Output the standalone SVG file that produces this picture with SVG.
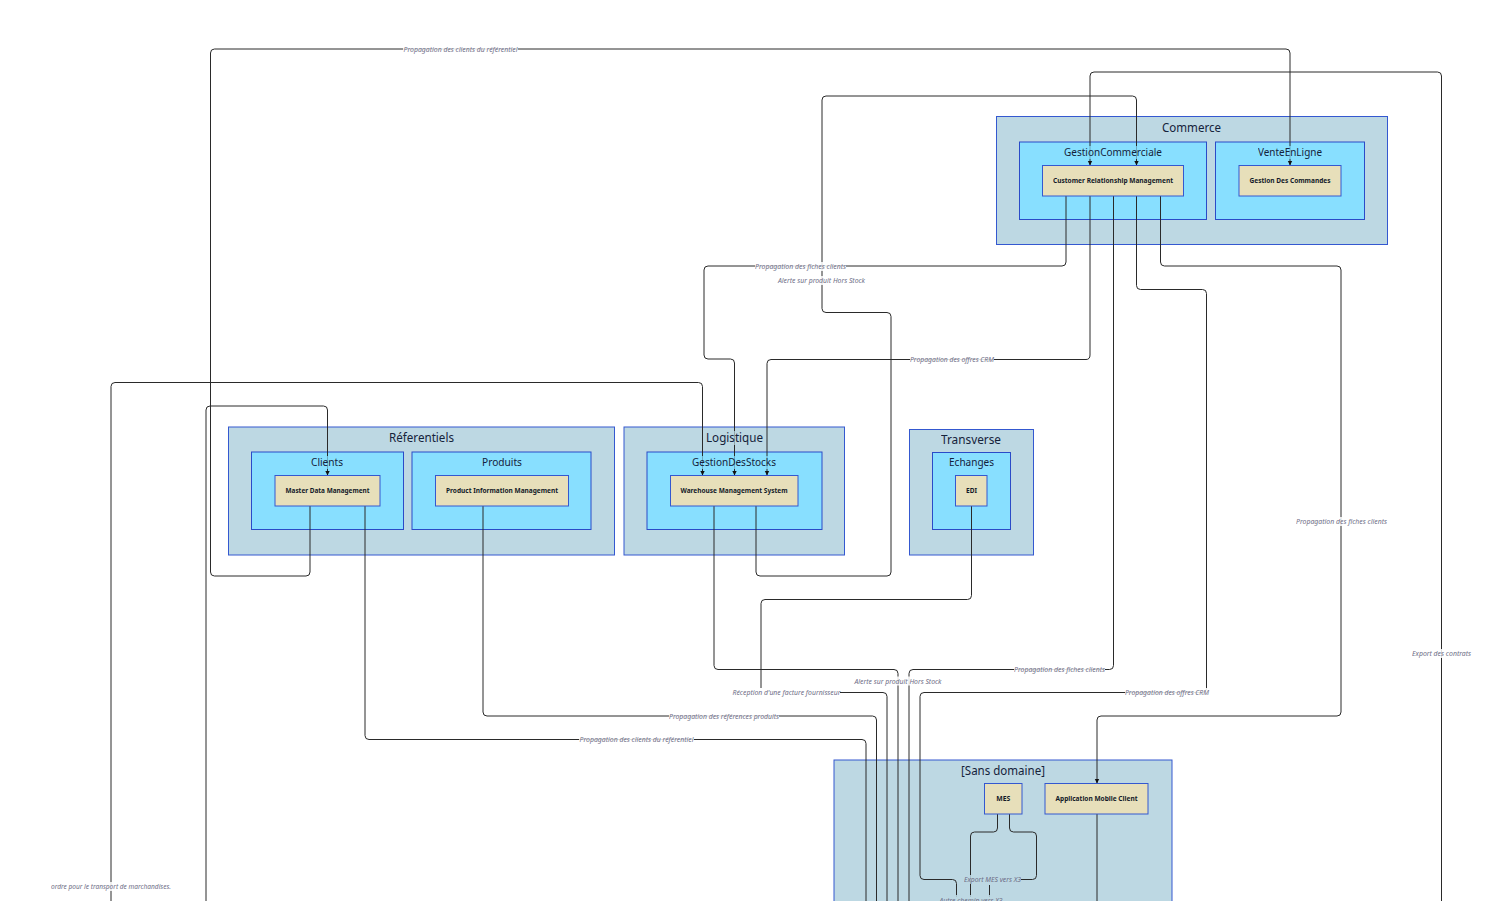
<svg xmlns="http://www.w3.org/2000/svg" width="1510" height="901" viewBox="0 0 1510 901">
<style>
.dom{fill:#bdd8e3;stroke:#3458d0;stroke-width:1}
.app{fill:#88dfff;stroke:#2a4bc8;stroke-width:1}
.mod{fill:#e7dfba;stroke:#3458d0;stroke-width:1}
.t{font-family:"Noto Sans","Liberation Sans",sans-serif;fill:#14213a;text-anchor:middle;opacity:.99}
.td{font-size:12px}
.ta{font-size:10.5px}
.tm{font-size:7.5px;font-weight:700;fill:#111827}
.c{fill:none;stroke:#2a2a2a;stroke-width:1}
.a{marker-end:url(#arr)}
.lb{fill:#fff;fill-opacity:.85;stroke:none}
.lbb{fill:#bdd8e3;fill-opacity:.85;stroke:none}
.l{font-family:"Noto Sans","Liberation Sans",sans-serif;font-style:italic;font-size:7.5px;fill:#6d6d86;text-anchor:middle;opacity:.99}
.bg1{fill:#bdd8e3;fill-opacity:.7}
.bg2{fill:#88dfff;fill-opacity:.7}
</style>
<defs>
<marker id="arr" markerUnits="userSpaceOnUse" markerWidth="6" markerHeight="6" refX="5" refY="3" orient="auto"><path d="M0 0.6L5 3L0 5.4Z" fill="#111"/></marker>
</defs>
<rect width="1510" height="901" fill="#fff"/>
<g id="containers">
<g id="dom-commerce"><rect class="dom" x="996.500" y="116.500" width="391" height="128"/></g>
<g id="app-gestioncommerciale"><rect class="app" x="1019.500" y="142" width="187" height="77.500"/></g>
<g id="app-venteenligne"><rect class="app" x="1215.500" y="142" width="149" height="77.500"/></g>
<g id="dom-referentiels"><rect class="dom" x="228.500" y="427" width="386" height="128"/></g>
<g id="app-clients"><rect class="app" x="251.500" y="452" width="152" height="77.500"/></g>
<g id="app-produits"><rect class="app" x="412" y="452" width="179" height="77.500"/></g>
<g id="dom-logistique"><rect class="dom" x="624" y="427" width="220.500" height="128"/></g>
<g id="app-gestiondesstocks"><rect class="app" x="647" y="452" width="175" height="77.500"/></g>
<g id="dom-transverse"><rect class="dom" x="909.500" y="429.500" width="124" height="125.500"/></g>
<g id="app-echanges"><rect class="app" x="932.500" y="452.500" width="78" height="77"/></g>
<g id="dom-sans"><rect class="dom" x="834" y="760" width="338" height="160"/></g>
</g>
<g id="connectors">
<path class="c a" d="M310 506V572Q310 576 306 576H214.500Q210.500 576 210.500 572V53Q210.500 49 214.500 49H1286Q1290 49 1290 53V165.500"/>
<path class="c a" d="M206 905V410Q206 406 210 406H323.500Q327.500 406 327.500 410V475.500"/>
<path class="c a" d="M111 905V386.500Q111 382.500 115 382.500H698.500Q702.500 382.500 702.500 386.500V475.500"/>
<path class="c a" d="M756 506V572Q756 576 760 576H887Q891 576 891 572V316.500Q891 312.500 887 312.500H826Q822 312.500 822 308.500V100Q822 96 826 96H1132.500Q1136.500 96 1136.500 100V165.500"/>
<path class="c a" d="M1066 196V262Q1066 266 1062 266H708Q704 266 704 270V355Q704 359 708 359H730.500Q734.500 359 734.500 363V475.500"/>
<path class="c a" d="M1090 196V355Q1090 359.500 1086 359.500H771Q767 359.500 767 363.500V475.500"/>
<path class="c a" d="M1441.500 905V76Q1441.500 72 1437.500 72H1094Q1090 72 1090 76V165.500"/>
<path class="c" d="M1113.500 196V665.500Q1113.500 669.500 1109.500 669.500H913Q909 669.500 909 673.500V905"/>
<path class="c" d="M1136.500 196V285.500Q1136.500 289.500 1140.500 289.500H1202.500Q1206.500 289.500 1206.500 293.500V688.500Q1206.500 692.500 1202.500 692.500H924Q920 692.500 920 696.500V875.500Q920 879.500 924 879.500H952.500Q956.500 879.500 956.500 883.500V897"/>
<path class="c a" d="M1160.500 196V262Q1160.500 266 1164.500 266H1337Q1341 266 1341 270V712Q1341 716 1337 716H1101Q1097 716 1097 720V783.500"/>
<path class="c" d="M714 506V665.500Q714 669.500 718 669.500H894Q898 669.500 898 673.500V905"/>
<path class="c" d="M971.500 506V595.500Q971.500 599.500 967.500 599.500H765Q761 599.500 761 603.500V688"/>
<path class="c" d="M840 692.500H883Q887 692.500 887 696.500V905"/>
<path class="c" d="M483 506V712Q483 716 487 716H872.500Q876.500 716 876.500 720V905"/>
<path class="c" d="M365 506V735.500Q365 739.500 369 739.500H862Q866 739.500 866 743.500V905"/>
<path class="c" d="M997.500 814V828Q997.500 832 993.500 832H974.500Q970.500 832 970.500 836V897"/>
<path class="c" d="M1009.500 814V828Q1009.500 832 1013.500 832H1032.500Q1036.500 832 1036.500 836V875.500Q1036.500 879.500 1032.500 879.500H1020"/>
<path class="c" d="M989.500 885V897"/>
<path class="c" d="M1097 814V905"/>
<g id="edge-labels">
<rect class="lb" x="403" y="45" width="115" height="9"/><text class="l" x="460.500" y="52" textLength="114" lengthAdjust="spacingAndGlyphs">Propagation des clients du référentiel</text>
<rect class="lb" x="755" y="262" width="91" height="9"/><text class="l" x="800.500" y="269" textLength="91" lengthAdjust="spacingAndGlyphs">Propagation des fiches clients</text>
<rect class="lb" x="778" y="276" width="87" height="9"/><text class="l" x="821.500" y="283" textLength="87" lengthAdjust="spacingAndGlyphs">Alerte sur produit Hors Stock</text>
<rect class="lb" x="910" y="355" width="84" height="9"/><text class="l" x="952" y="362" textLength="84" lengthAdjust="spacingAndGlyphs">Propagation des offres CRM</text>
<rect class="lb" x="1296" y="517" width="91" height="9"/><text class="l" x="1341.500" y="524" textLength="91" lengthAdjust="spacingAndGlyphs">Propagation des fiches clients</text>
<rect class="lb" x="1412" y="649" width="59" height="9"/><text class="l" x="1441.500" y="656" textLength="59" lengthAdjust="spacingAndGlyphs">Export des contrats</text>
<rect class="lb" x="1014" y="665" width="91" height="9"/><text class="l" x="1059.500" y="672" textLength="91" lengthAdjust="spacingAndGlyphs">Propagation des fiches clients</text>
<rect class="lb" x="855" y="676.500" width="87" height="9"/><text class="l" x="898" y="683.500" textLength="87" lengthAdjust="spacingAndGlyphs">Alerte sur produit Hors Stock</text>
<rect class="lb" x="732" y="688" width="108" height="9"/><text class="l" x="786.500" y="695" textLength="108" lengthAdjust="spacingAndGlyphs">Réception d'une facture fournisseur</text>
<rect class="lb" x="1125" y="688" width="84" height="9"/><text class="l" x="1167" y="695" textLength="84" lengthAdjust="spacingAndGlyphs">Propagation des offres CRM</text>
<rect class="lb" x="669" y="712" width="110" height="9"/><text class="l" x="724" y="719" textLength="110" lengthAdjust="spacingAndGlyphs">Propagation des références produits</text>
<rect class="lb" x="579" y="735" width="115" height="9"/><text class="l" x="636.500" y="742" textLength="114" lengthAdjust="spacingAndGlyphs">Propagation des clients du référentiel</text>
<rect class="lbb" x="964" y="875" width="57" height="9"/><text class="l" x="992.500" y="882" textLength="57" lengthAdjust="spacingAndGlyphs">Export MES vers X3</text>
<rect class="lbb" x="939" y="895" width="64" height="9"/><text class="l" x="971" y="902.500" textLength="63" lengthAdjust="spacingAndGlyphs">Autre chemin vers X3</text>
<rect class="lb" x="51" y="882" width="120" height="9"/><text class="l" x="111" y="889" textLength="120" lengthAdjust="spacingAndGlyphs">ordre pour le transport de marchandises.</text>
</g>
</g>
<g id="titles">
<rect class="bg1" x="1162" y="121" width="59" height="14"/><text class="t td" x="1191.500" y="132" textLength="59" lengthAdjust="spacingAndGlyphs">Commerce</text>
<rect class="bg2" x="1064" y="146" width="98" height="13"/><text class="t ta" x="1113" y="156" textLength="98" lengthAdjust="spacingAndGlyphs">GestionCommerciale</text>
<rect class="bg2" x="1258" y="146" width="64" height="13"/><text class="t ta" x="1290" y="156" textLength="64" lengthAdjust="spacingAndGlyphs">VenteEnLigne</text>
<rect class="bg1" x="389" y="431" width="65" height="14"/><text class="t td" x="421.500" y="442" textLength="65" lengthAdjust="spacingAndGlyphs">Réferentiels</text>
<rect class="bg2" x="311" y="456" width="32" height="13"/><text class="t ta" x="327" y="466" textLength="32" lengthAdjust="spacingAndGlyphs">Clients</text>
<rect class="bg2" x="482" y="456" width="40" height="13"/><text class="t ta" x="502" y="466" textLength="40" lengthAdjust="spacingAndGlyphs">Produits</text>
<rect class="bg1" x="706" y="431" width="57" height="14"/><text class="t td" x="734.500" y="442" textLength="57" lengthAdjust="spacingAndGlyphs">Logistique</text>
<rect class="bg2" x="692" y="456" width="84" height="13"/><text class="t ta" x="734" y="466" textLength="84" lengthAdjust="spacingAndGlyphs">GestionDesStocks</text>
<text class="t td" x="971" y="444" textLength="60" lengthAdjust="spacingAndGlyphs">Transverse</text>
<text class="t ta" x="971.500" y="466" textLength="45" lengthAdjust="spacingAndGlyphs">Echanges</text>
<text class="t td" x="1003" y="775" textLength="84" lengthAdjust="spacingAndGlyphs">[Sans domaine]</text>
</g>
<g id="crm"><rect class="mod" x="1042.500" y="165.500" width="141" height="30.500"/><text class="t tm" x="1113" y="183" textLength="120" lengthAdjust="spacingAndGlyphs">Customer Relationship Management</text></g>
<g id="gdc"><rect class="mod" x="1239" y="165.500" width="102" height="30.500"/><text class="t tm" x="1290" y="183" textLength="81" lengthAdjust="spacingAndGlyphs">Gestion Des Commandes</text></g>
<g id="mdm"><rect class="mod" x="275" y="475.500" width="105" height="30.500"/><text class="t tm" x="327.500" y="493" textLength="84" lengthAdjust="spacingAndGlyphs">Master Data Management</text></g>
<g id="pim"><rect class="mod" x="435.500" y="475.500" width="133" height="30.500"/><text class="t tm" x="502" y="493" textLength="112" lengthAdjust="spacingAndGlyphs">Product Information Management</text></g>
<g id="wms"><rect class="mod" x="670.500" y="475.500" width="127.500" height="30.500"/><text class="t tm" x="734" y="493" textLength="107" lengthAdjust="spacingAndGlyphs">Warehouse Management System</text></g>
<g id="edi"><rect class="mod" x="955.500" y="475.500" width="31.500" height="30.500"/><text class="t tm" x="971.500" y="493" textLength="11" lengthAdjust="spacingAndGlyphs">EDI</text></g>
<g id="mes"><rect class="mod" x="984.500" y="783.500" width="37.500" height="30.500"/><text class="t tm" x="1003.300" y="801" textLength="14" lengthAdjust="spacingAndGlyphs">MES</text></g>
<g id="amc"><rect class="mod" x="1045" y="783.500" width="103" height="30.500"/><text class="t tm" x="1096.500" y="801" textLength="82" lengthAdjust="spacingAndGlyphs">Application Mobile Client</text></g>
</svg>
